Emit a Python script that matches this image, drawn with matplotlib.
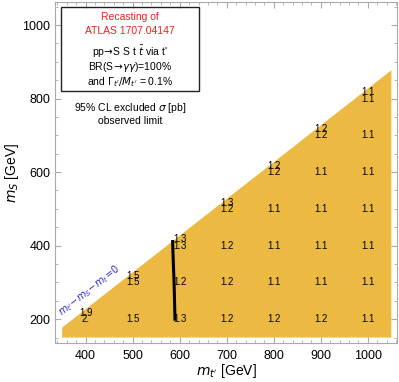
import matplotlib
matplotlib.use("Agg")
import matplotlib.pyplot as plt
from matplotlib.patches import Rectangle
from matplotlib.ticker import MultipleLocator

plt.rcParams["font.family"] = ["Liberation Sans", "DejaVu Sans"]
plt.rcParams["mathtext.fontset"] = "dejavusans"

# grid of mass points (GeV)
m_tp = [400, 500, 600, 700, 800, 900, 1000]
m_s = [200, 300, 400, 500, 600, 700, 800]
m_top = 173

# observed limits in pb, one list per m_t' column (from m_S = 200 upward)
sigma_grid = {
    400: ["2."],
    500: ["1.5", "1.5"],
    600: ["1.3", "1.2", "1.3"],
    700: ["1.2", "1.2", "1.2", "1.2"],
    800: ["1.2", "1.1", "1.1", "1.1", "1.2"],
    900: ["1.2", "1.1", "1.1", "1.1", "1.1", "1.2"],
    1000: ["1.1", "1.1", "1.1", "1.1", "1.1", "1.1", "1.1"],
}
# points on the kinematic boundary m_S = m_t' - m_t
sigma_edge = ["1.9", "1.5", "1.3", "1.3", "1.2", "1.2", "1.1"]

# contour line
contour_x = [585, 586, 588, 589, 590]
contour_y = [411, 370, 300, 250, 200]

orange = "#ECBA42"

fig = plt.figure(figsize=(3.99, 3.82), dpi=100)
ax = fig.add_axes([0.138, 0.102, 0.857, 0.893])

half = 50
x0, x1 = m_tp[0] - half, m_tp[-1] + half
y0 = m_s[0] - half
ax.fill([x0, x1, x1, x0], [y0, y0, x1 - m_top, x0 - m_top],
        color=orange, lw=0, zorder=1)

for mt, vals in sigma_grid.items():
    for ms, v in zip(m_s, vals):
        ax.text(mt, ms, v, ha="center", va="center", fontsize=7, zorder=3)
for mt, v in zip(m_tp, sigma_edge):
    ax.text(mt, mt - m_top - 10, v, ha="center", va="center", fontsize=7, zorder=3)

ax.plot(contour_x, contour_y, color="black", lw=2.2, zorder=4)

ax.text(407, 279, r"$m_{t'}\!-\!m_S\!-\!m_t\!=\!0$", color="#2B2BC8",
        fontsize=7, rotation=38, ha="center", va="center", zorder=3)

ax.set_xlim(335, 1062)
ax.set_ylim(135, 1063)
ax.xaxis.set_major_locator(MultipleLocator(100))
ax.xaxis.set_minor_locator(MultipleLocator(20))
ax.yaxis.set_major_locator(MultipleLocator(200))
ax.yaxis.set_minor_locator(MultipleLocator(50))
ax.tick_params(which="both", direction="in", top=True, right=True,
               color="#AAAAAA", labelsize=9)
ax.tick_params(which="major", length=4)
ax.tick_params(which="minor", length=2)
ax.tick_params(axis="x", pad=5)
for s in ax.spines.values():
    s.set_color("#AAAAAA")
    s.set_linewidth(0.8)

ax.set_xlabel(r"$m_{t'}$ [GeV]", fontsize=10, labelpad=0)
ax.set_ylabel(r"$m_S$ [GeV]", fontsize=10, labelpad=1)

fig.patches.append(Rectangle((0.153, 0.762), 0.346, 0.220, transform=fig.transFigure,
                             fill=False, edgecolor="#222222", lw=1.0))
cx = 0.326
fig.text(cx, 0.955, "Recasting of", color="#F02020", ha="center", va="center", fontsize=7.5)
fig.text(cx, 0.919, "ATLAS 1707.04147", color="#F02020", ha="center", va="center", fontsize=7.5)
fig.text(cx, 0.864, r"pp$\!\rightarrow\!$S S t $\bar{t}$ via t'", ha="center", va="center", fontsize=7.5)
fig.text(cx, 0.825, r"BR(S$\!\rightarrow\!\gamma\gamma$)=100%", ha="center", va="center", fontsize=7.5)
fig.text(cx, 0.785, r"and $\Gamma_{t'}/M_{t'}$ = 0.1%", ha="center", va="center", fontsize=7.5)
fig.text(cx, 0.717, r"95% CL excluded $\sigma$ [pb]", ha="center", va="center", fontsize=7.5)
fig.text(cx, 0.683, "observed limit", ha="center", va="center", fontsize=7.5)

fig.savefig("out.png", dpi=100)
